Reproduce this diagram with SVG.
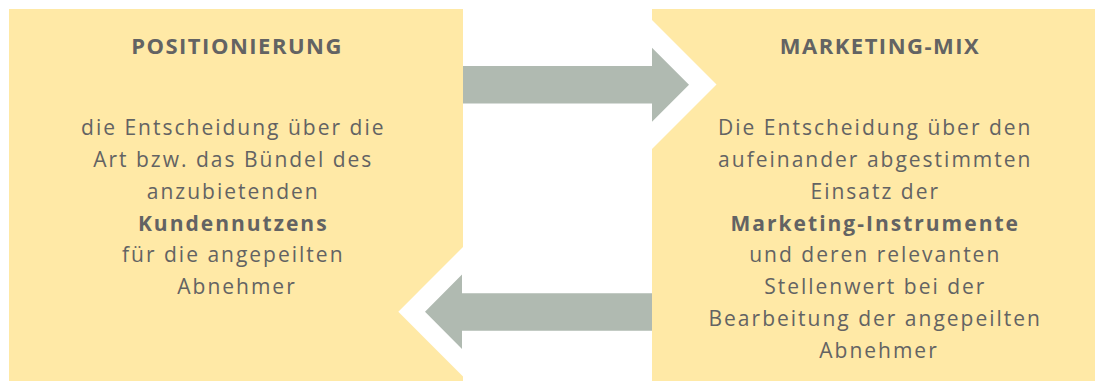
<svg xmlns="http://www.w3.org/2000/svg" width="1095" height="381" viewBox="0 0 1095 381">
  <style>
    .box { fill: #FFE9A6; }
    .arrow { fill: #B0BAB1; }
    .gap { fill: #FFFFFF; }
    text { font-family: "Open Sans", "Noto Sans", "DejaVu Sans", sans-serif; fill: #636363; text-anchor: middle; }
    .title { font-size: 22px; font-weight: bold; letter-spacing: 1.5px; }
    .body { font-size: 21px; letter-spacing: 2px; }
    .b { font-weight: bold; }
  </style>
  <rect width="1095" height="381" fill="#FFFFFF"/>
  <g id="positionierung">
    <rect class="box" x="9" y="9" width="454" height="372"/>
    <text class="title" x="237" y="54">POSITIONIERUNG</text>
    <text class="body" x="237">
      <tspan x="237" y="135">die Entscheidung über die</tspan>
      <tspan x="237" y="167">Art bzw. das Bündel des</tspan>
      <tspan x="237" y="199">anzubietenden</tspan>
      <tspan x="237" y="230.5" class="b">Kundennutzens</tspan>
      <tspan x="237" y="262">für die angepeilten</tspan>
      <tspan x="237" y="294">Abnehmer</tspan>
    </text>
  </g>
  <g id="marketing-mix">
    <rect class="box" x="652" y="9" width="443" height="372"/>
    <text class="title" x="880" y="54">MARKETING-MIX</text>
    <text class="body" x="879">
      <tspan x="879" y="135">Die Entscheidung über den</tspan>
      <tspan x="879" y="167">aufeinander abgestimmten</tspan>
      <tspan x="879" y="199">Einsatz der</tspan>
      <tspan x="879" y="230.5" class="b">Marketing-Instrumente</tspan>
      <tspan x="879" y="262">und deren relevanten</tspan>
      <tspan x="879" y="294">Stellenwert bei der</tspan>
      <tspan x="879" y="326">Bearbeitung der angepeilten</tspan>
      <tspan x="879" y="358">Abnehmer</tspan>
    </text>
  </g>
  <g id="connectors">
    <polygon class="gap" points="652,20 716.5,84.5 652,149"/>
    <polygon class="arrow" points="463,66 652,66 652,47.7 689,84.7 652,121.7 652,103.5 463,103.5"/>
    <polygon class="gap" points="463,247 398.3,311.7 463,376.4"/>
    <polygon class="arrow" points="652,293.3 462,293.3 462,274.5 425,311.7 462,349 462,330.7 652,330.7"/>
  </g>
</svg>
